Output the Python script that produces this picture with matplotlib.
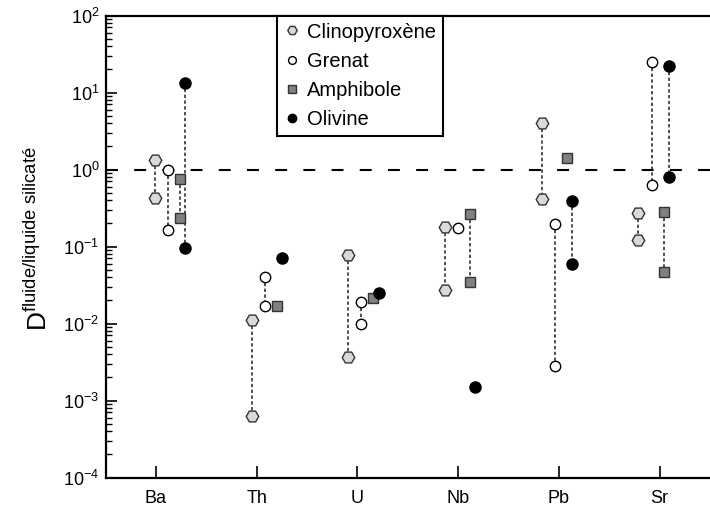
import numpy as np
import matplotlib
matplotlib.use("Agg")
import matplotlib.pyplot as plt
from matplotlib.ticker import LogLocator, NullFormatter

plt.rcParams['font.family'] = ['Liberation Sans', 'DejaVu Sans']
plt.rcParams['mathtext.fontset'] = 'custom'
plt.rcParams['mathtext.rm'] = 'Liberation Sans'
plt.rcParams['mathtext.it'] = 'Liberation Sans:italic'
plt.rcParams['mathtext.default'] = 'regular'

# elements on the x axis
elements = ['Ba', 'Th', 'U', 'Nb', 'Pb', 'Sr']

# y axis decades
decades = [-4, -3, -2, -1, 0, 1, 2]

# partition coefficients (upper / lower bound)
cpx_high = [1.33, 0.0111, 0.0776, 0.181, 4.05, 0.27]
cpx_low = [0.43, 0.00063, 0.00371, 0.0272, 0.414, 0.121]
grt_high = [1.0, 0.0398, 0.0188, 0.172, 0.196, 25.1]
grt_low = [0.164, 0.0170, 0.0098, np.nan, 0.0028, 0.63]
amph_high = [0.75, np.nan, np.nan, 0.264, np.nan, 0.283]
amph_low = [0.237, 0.0170, 0.0216, 0.0349, 1.42, 0.047]
ol_high = [13.2, np.nan, np.nan, np.nan, 0.39, 22.1]
ol_low = [0.096, 0.0703, 0.0251, 0.00151, 0.0593, 0.806]

minerals = [
    ('Clinopyroxène', cpx_high, cpx_low, -0.01,
     dict(marker='H', mfc='#d9d9d9', mec='#333333', ms=9, mew=1.0)),
    ('Grenat', grt_high, grt_low, 0.12,
     dict(marker='o', mfc='white', mec='black', ms=7.5, mew=1.0)),
    ('Amphibole', amph_high, amph_low, 0.24,
     dict(marker='s', mfc='#808080', mec='#333333', ms=7, mew=1.0)),
    ('Olivine', ol_high, ol_low, 0.29,
     dict(marker='o', mfc='black', mec='black', ms=8, mew=1.0)),
]

fig = plt.figure(figsize=(7.1, 5.08), dpi=100)
ax = fig.add_axes([105.5 / 710, 1 - 477.5 / 508, 1 - 105.5 / 710, 462 / 508])

ax.axhline(1.0, color='black', lw=1.5, ls=(0, (8.6 / 1.5, 11.7 / 1.5)),
           zorder=1)

idx = np.arange(len(elements))
handles = []
for name, hi, lo, off, style in minerals:
    xs = 1 + 0.96 * idx + off
    hi = np.array(hi, dtype=float)
    lo = np.array(lo, dtype=float)
    for x, a, b in zip(xs, hi, lo):
        if np.isfinite(a) and np.isfinite(b):
            ax.plot([x, x], [a, b], ls=(0, (2.2, 1.6)), color='#222222',
                    lw=1.1, zorder=2)
    h, = ax.plot(xs, hi, ls='none', zorder=3, label=name, **style)
    ax.plot(xs, lo, ls='none', zorder=3, **style)
    handles.append(h)

ax.set_yscale('log')
ax.set_ylim(1e-4, 1e2)
ax.set_xlim(0.5, 6.5)
ax.set_xticks(idx + 1)
ax.set_xticklabels(elements)
ax.set_yticks([10.0 ** d for d in decades])
ax.set_yticklabels([r'$10^{%d}$' % d for d in decades])
ax.yaxis.set_minor_locator(LogLocator(base=10, subs=np.arange(2, 10),
                                      numticks=20))
ax.yaxis.set_minor_formatter(NullFormatter())

ax.tick_params(axis='both', which='both', direction='in', labelsize=13)
ax.tick_params(axis='y', which='major', length=8, width=1.2, pad=4.5)
ax.tick_params(axis='y', which='minor', length=4, width=1.0)
ax.tick_params(axis='x', which='major', length=8.5, width=1.2, pad=9)
ax.tick_params(axis='x', which='minor', bottom=False)

for side in ['left', 'bottom', 'top']:
    ax.spines[side].set_linewidth(1.6)
ax.spines['right'].set_visible(False)

leg = ax.legend(handles=handles, loc='upper center',
                bbox_to_anchor=(0.421, 1.0), borderaxespad=0, fontsize=14.5,
                frameon=True, fancybox=False, edgecolor='black',
                framealpha=1, markerscale=0.75, handlelength=0.8,
                handletextpad=0.3, labelspacing=0.5, borderpad=0.35)
leg.get_frame().set_linewidth(1.5)

fig.text(38 / 710, 0.531, r'D$^{\mathrm{fluide/liquide\ silicaté}}$',
         rotation=90, ha='center', va='center', fontsize=19)

fig.savefig('out.png', dpi=100)
